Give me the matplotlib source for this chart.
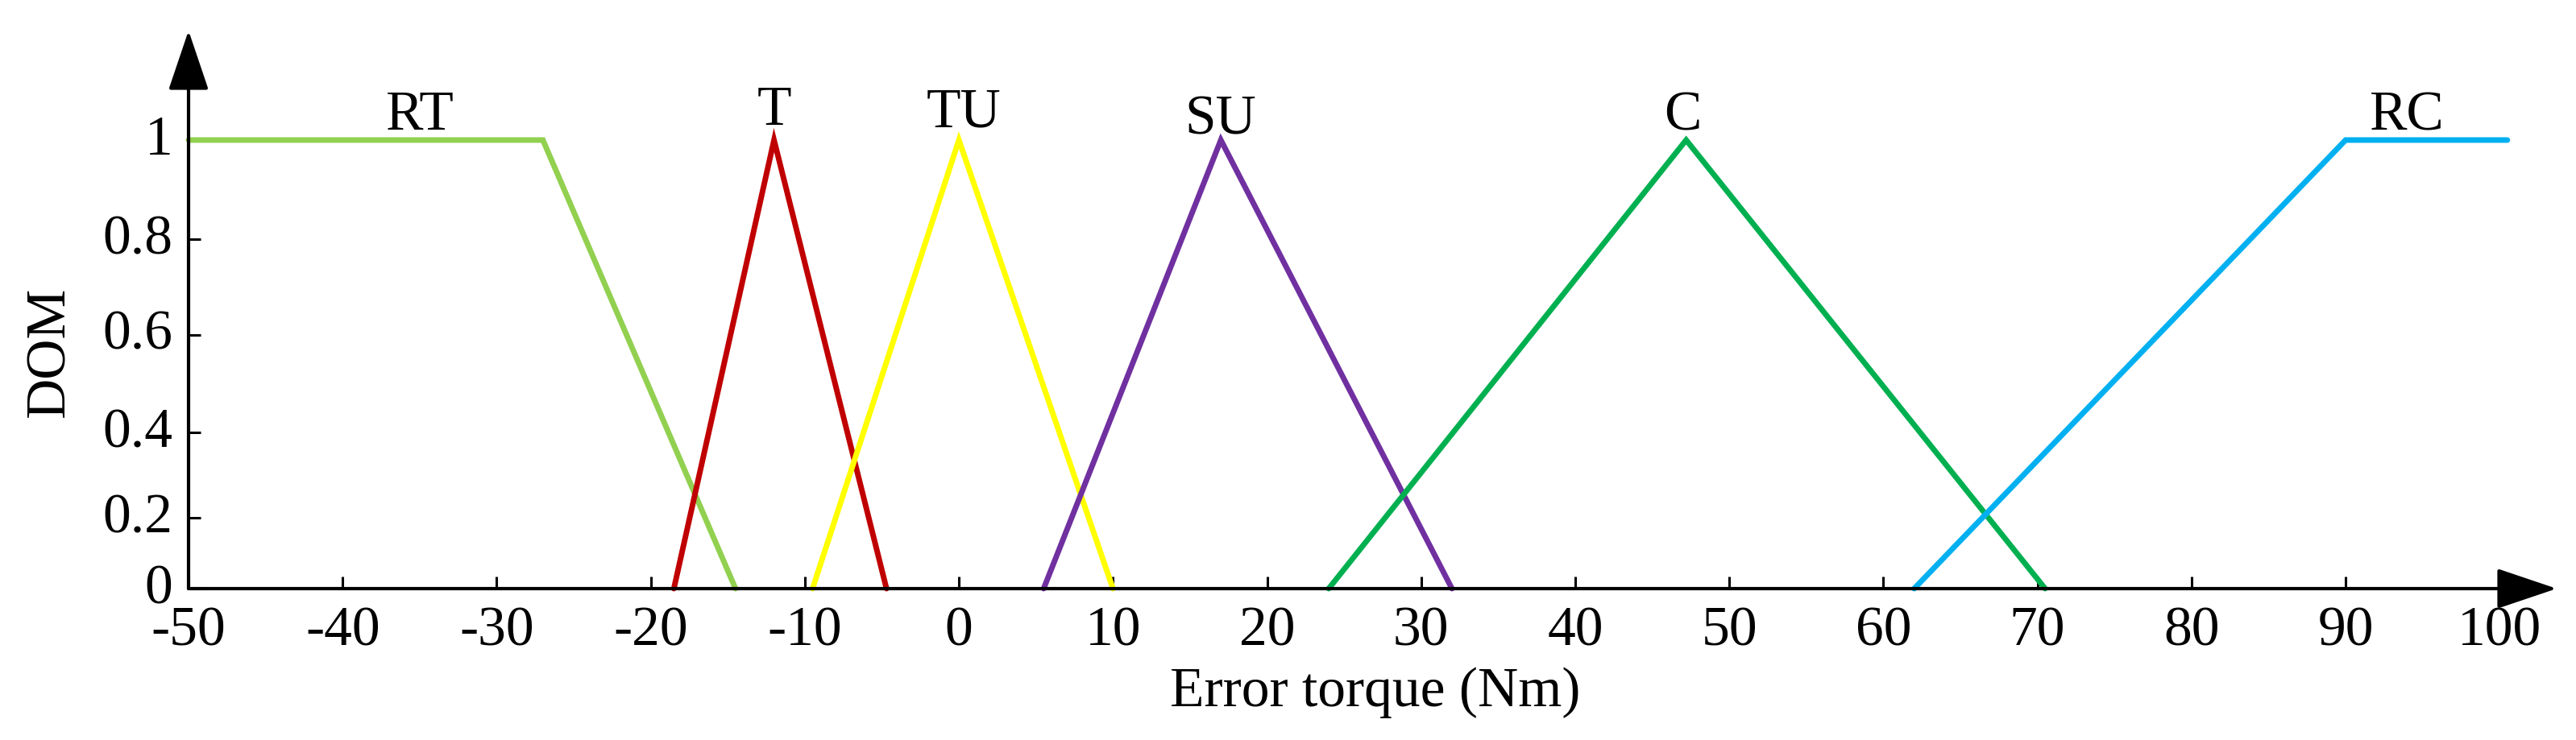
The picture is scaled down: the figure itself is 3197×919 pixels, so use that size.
import matplotlib.pyplot as plt
from matplotlib.transforms import ScaledTranslation

plt.rcParams["font.family"] = ["Liberation Serif", "DejaVu Serif"]
plt.rcParams["axes.unicode_minus"] = False

# membership functions
set_names = ["RT", "T", "TU", "SU", "C", "RC"]
set_x = [
    [-50, -27, -14.5],
    [-18.5, -12, -4.7],
    [-9.5, 0, 10],
    [5.5, 17, 32],
    [24, 47.2, 70.5],
    [62, 90, 100.5],
]
set_y = [
    [1, 1, 0],
    [0, 1, 0],
    [0, 1, 0],
    [0, 1, 0],
    [0, 1, 0],
    [0, 1, 1],
]
set_colors = ["#92D050", "#C00000", "#FFFF00", "#7030A0", "#00B050", "#00B0F0"]
name_x = [-35, -12, 0.3, 17, 47, 94]
name_y = [1.023, 1.034, 1.03, 1.014, 1.023, 1.023]

x_ticks = list(range(-50, 101, 10))
x_tick_labels = [str(v) for v in x_ticks]
# the y ticks in the original are not evenly spaced
y_ticks = [0, 0.158, 0.348, 0.566, 0.779, 1.0]
y_tick_labels = ["0", "0.2", "0.4", "0.6", "0.8", "1"]

W, H = 3197, 919
fig = plt.figure(figsize=(W / 100, H / 100), dpi=100)
ax = fig.add_axes([234 / W, (H - 731) / H, (3173 - 234) / W, (731 - 38) / H])
ax.set_xlim(-50, 103.7)
ax.set_ylim(0, 1.244)

for xs, ys, c in zip(set_x, set_y, set_colors):
    ax.plot(xs, ys, color=c, lw=5, solid_capstyle="round",
            solid_joinstyle="miter", clip_on=False, zorder=3)

for name, tx, ty in zip(set_names, name_x, name_y):
    ax.text(tx, ty, name, ha="center", va="baseline", fontsize=50)

for s in ax.spines.values():
    s.set_visible(False)

arrow = dict(arrowstyle="-|>,head_length=46.8,head_width=15.8", mutation_scale=1,
             lw=3, color="black", shrinkA=0, shrinkB=0)
ax.annotate("", xy=(103.7, 0), xytext=(-50, 0), arrowprops=arrow, annotation_clip=False)
ax.annotate("", xy=(-50, 1.244), xytext=(-50, 0), arrowprops=arrow, annotation_clip=False)

ax.set_xticks(x_ticks)
ax.set_xticklabels(x_tick_labels)
ax.set_yticks(y_ticks)
ax.set_yticklabels(y_tick_labels)
ax.tick_params(axis="both", direction="in", length=10.8, width=2.2, labelsize=50)
ax.tick_params(axis="x", pad=16)
ax.tick_params(axis="y", pad=14)

lift = ScaledTranslation(0, 6 / 100, fig.dpi_scale_trans)
for lab in ax.get_yticklabels():
    lab.set_transform(lab.get_transform() + lift)

fig.text(63 / W, 1 - 437 / H, "DOM", rotation=90, ha="center", va="center", fontsize=50)
fig.text(1707 / W, 1 - 877 / H, "Error torque (Nm)", ha="center", va="baseline", fontsize=50)

fig.savefig("out.png", dpi=100)
